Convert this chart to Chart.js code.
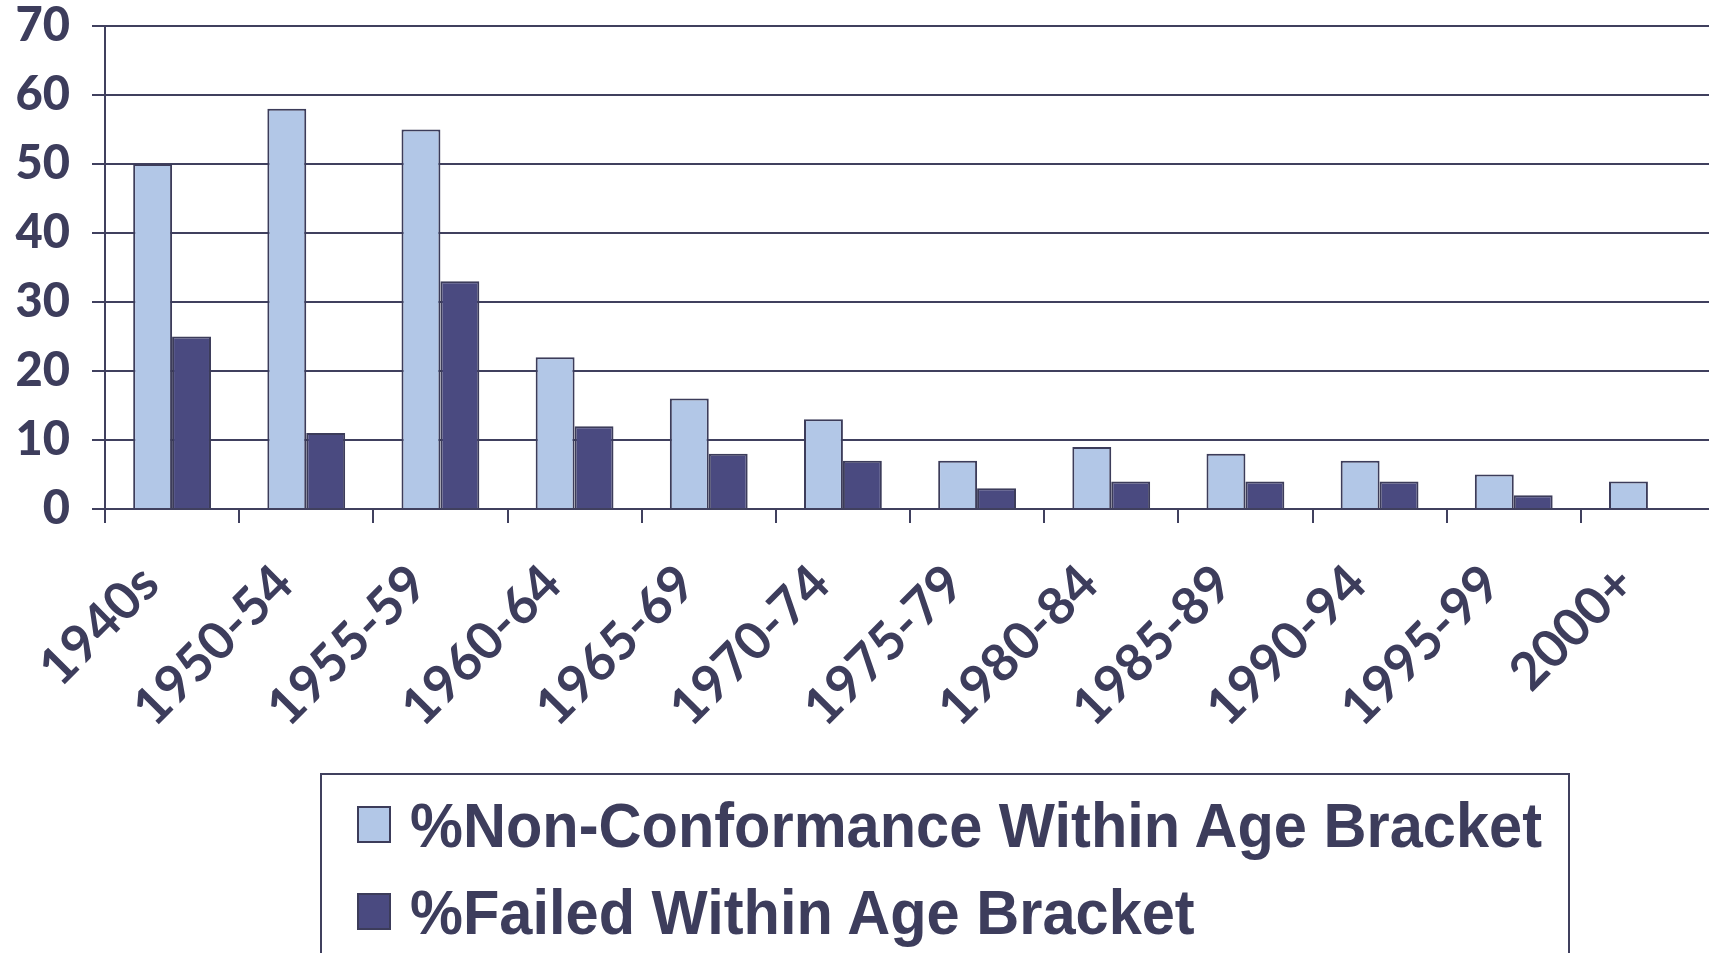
<!DOCTYPE html>
<html>
<head>
<meta charset="utf-8">
<script src="https://cdn.jsdelivr.net/npm/chart.js@4.4.1/dist/chart.umd.min.js"></script>
<style>
  body { margin: 0; background: #fff; overflow: hidden; width: 1709px; height: 953px; position: relative; }
  #wrap { position: absolute; left: 0; top: 0; width: 1730px; height: 790px; }
  #legend { position: absolute; left: 320px; top: 773px; width: 1250px; height: 220px;
            border: 2px solid #40405e; box-sizing: border-box; }
  .item { position: absolute; left: 0; height: 80px; }
  .swatch { position: absolute; left: 35px; top: 3px; width: 34px; height: 37px; border: 2px solid #3c3c5a; box-sizing: border-box; }
  .label { position: absolute; left: 88px; top: -8px; white-space: nowrap; transform-origin: 0 0;
           font-family: "Liberation Sans Narrow", "Liberation Sans", sans-serif; font-weight: bold;
           font-size: 60px; line-height: 60px; color: #3d3d5c; }
</style>
</head>
<body>
<div id="wrap"><canvas id="chart" width="1730" height="790"></canvas></div>
<div id="legend"></div>
<script>
const categories = ['1940s', '1950-54', '1955-59', '1960-64', '1965-69', '1970-74',
                    '1975-79', '1980-84', '1985-89', '1990-94', '1995-99', '2000+'];
const nonConformance = [50, 58, 55, 22, 16, 13, 7, 9, 8, 7, 5, 4];
const failed = [25, 11, 33, 12, 8, 7, 3, 4, 4, 4, 2, null];
const seriesNames = ['%Non-Conformance Within Age Bracket', '%Failed Within Age Bracket'];

const axisColor = '#40405e';
const textColor = '#3d3d5c';
const lightFill = '#b2c7e7';
const darkFill = '#4a4a80';
const edge = '#3c3c5a';

const ctx = document.getElementById('chart').getContext('2d');
const chart = new Chart(ctx, {
    type: 'bar',
    data: {
        labels: categories,
        datasets: [
            { label: seriesNames[0], data: nonConformance, backgroundColor: lightFill, borderColor: edge, borderWidth: 2 },
            { label: seriesNames[1], data: failed, backgroundColor: darkFill, borderColor: edge, borderWidth: 2 }
        ]
    },
    options: {
        responsive: false,
        animation: false,
        categoryPercentage: 0.58,
        barPercentage: 1.0,
        layout: { padding: { top: 26, right: 15, left: 0, bottom: 0 } },
        plugins: {
            legend: { display: false },
            tooltip: { enabled: false }
        },
        scales: {
            x: {
                grid: { offset: true, drawOnChartArea: false, drawTicks: true, tickLength: 14, color: axisColor, lineWidth: 2 },
                border: { color: axisColor, width: 2 },
                ticks: {
                    color: textColor, autoSkip: false, minRotation: 45, maxRotation: 45,
                    padding: 30, labelOffset: -22,
                    font: { family: 'Lato', size: 52, weight: 'bold' }
                },
                afterFit: scale => { scale.height = 790 - 509; }
            },
            y: {
                min: 0, max: 70,
                grid: { color: axisColor, lineWidth: 2, tickLength: 13 },
                border: { color: axisColor, width: 2 },
                ticks: {
                    stepSize: 10, color: textColor, padding: 22,
                    // tiny line height so the top label does not push the plot down
                    font: { family: 'Lato', size: 47, weight: '900', lineHeight: 0.1 }
                },
                afterFit: scale => { scale.width = 105; }
            }
        }
    }
});

// legend box in the style of the original
const legend = document.getElementById('legend');
const rowTops = [28, 115];
chart.data.datasets.forEach((ds, i) => {
    const item = document.createElement('div');
    item.className = 'item';
    item.style.top = rowTops[i] + 'px';
    item.innerHTML = '<div class="swatch" style="background:' + ds.backgroundColor + '"></div>' +
                     '<div class="label">' + ds.label + '</div>';
    legend.appendChild(item);
});
const labels = legend.querySelectorAll('.label');
const sx = 1132 / labels[0].getBoundingClientRect().width;
labels.forEach(l => { l.style.transform = 'scale(' + sx + ', 1.05)'; });
</script>
</body>
</html>
